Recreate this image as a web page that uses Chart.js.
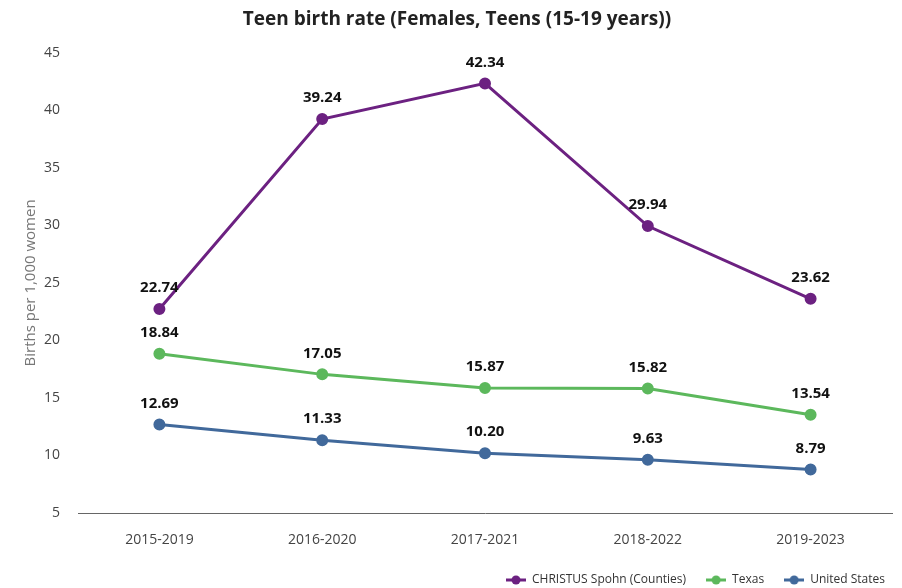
<!DOCTYPE html>
<html>
<head>
<meta charset="utf-8">
<script src="https://cdn.jsdelivr.net/npm/chart.js@4/dist/chart.umd.min.js"></script>
<style>
  html, body { margin: 0; padding: 0; background: #fff; }
  #wrap { width: 902px; height: 588px; }
</style>
</head>
<body>
<div id="wrap"><canvas id="c" width="902" height="588"></canvas></div>
<script>
const periods = ['2015-2019', '2016-2020', '2017-2021', '2018-2022', '2019-2023'];
const christusSpohn = [22.74, 39.24, 42.34, 29.94, 23.62];
const texas = [18.84, 17.05, 15.87, 15.82, 13.54];
const unitedStates = [12.69, 11.33, 10.20, 9.63, 8.79];
const seriesNames = ['CHRISTUS Spohn (Counties)', 'Texas', 'United States'];
const seriesColors = ['#6c2181', '#5cb85c', '#41699b'];

const FONT = '"Open Sans", "Noto Sans", sans-serif';

// Legend marker: short line with a dot in the middle
function legendMarker(color) {
  const cv = document.createElement('canvas');
  cv.width = 20; cv.height = 10;
  const g = cv.getContext('2d');
  g.strokeStyle = color; g.lineWidth = 3;
  g.beginPath(); g.moveTo(0, 5); g.lineTo(20, 5); g.stroke();
  g.fillStyle = color;
  g.beginPath(); g.arc(10, 5, 4.5, 0, Math.PI * 2); g.fill();
  return cv;
}

// Value labels above every point
const valueLabels = {
  id: 'valueLabels',
  afterDatasetsDraw(chart) {
    const ctx = chart.ctx;
    ctx.save();
    ctx.font = 'bold 15px ' + FONT;
    ctx.fillStyle = '#111';
    ctx.textAlign = 'center';
    ctx.textBaseline = 'middle';
    chart.data.datasets.forEach((ds, i) => {
      const meta = chart.getDatasetMeta(i);
      meta.data.forEach((pt, j) => {
        ctx.fillText(ds.data[j].toFixed(2), pt.x, pt.y - 21);
      });
    });
    ctx.restore();
  }
};

// Nudge the legend to the lower right corner
const legendNudge = {
  id: 'legendNudge',
  afterLayout(chart) {
    const lg = chart.legend;
    if (!lg) return;
    lg.left += 13; lg.right += 13;
    lg.top += 8; lg.bottom += 8;
  }
};

const seriesData = [christusSpohn, texas, unitedStates];

new Chart(document.getElementById('c'), {
  type: 'line',
  data: {
    labels: periods,
    datasets: seriesData.map((d, i) => ({
      label: seriesNames[i],
      data: d,
      borderColor: seriesColors[i],
      backgroundColor: seriesColors[i],
      pointBackgroundColor: seriesColors[i],
      pointBorderColor: seriesColors[i],
      borderWidth: 3,
      pointRadius: 4.5,
      tension: 0,
      fill: false
    }))
  },
  options: {
    responsive: false,
    animation: false,
    layout: { padding: { left: 22, right: 10, top: 0, bottom: 0 } },
    plugins: {
      title: {
        display: true,
        text: 'Teen birth rate (Females, Teens (15-19 years))',
        color: '#222',
        font: { family: FONT, size: 19, weight: 'bold' },
        padding: { top: 8, bottom: 22 }
      },
      legend: {
        position: 'bottom',
        align: 'end',
        labels: {
          color: '#333',
          font: { family: FONT, size: 12 },
          usePointStyle: true,
          pointStyleWidth: 20,
          padding: 20,
          generateLabels(chart) {
            return chart.data.datasets.map((ds, i) => ({
              text: ds.label,
              fillStyle: ds.borderColor,
              strokeStyle: ds.borderColor,
              fontColor: '#333',
              pointStyle: legendMarker(ds.borderColor),
              lineWidth: 0,
              hidden: false,
              datasetIndex: i
            }));
          }
        }
      },
      tooltip: { enabled: false }
    },
    scales: {
      x: {
        offset: true,
        grid: { display: false, drawTicks: false },
        border: { display: true, color: '#666', width: 1 },
        ticks: { color: '#444', font: { family: FONT, size: 14 }, padding: 19 },
        afterFit(scale) { scale.height = 33; }
      },
      y: {
        min: 5,
        max: 45,
        ticks: { stepSize: 5, color: '#444', font: { family: FONT, size: 14 }, padding: 18 },
        grid: { display: false, drawTicks: false },
        border: { display: false },
        title: {
          display: true,
          text: 'Births per 1,000 women',
          color: '#777',
          font: { family: FONT, size: 15 },
          padding: { top: 0, bottom: 6 }
        },
        afterFit(scale) { scale.width = 56; }
      }
    }
  },
  plugins: [valueLabels, legendNudge]
});
</script>
</body>
</html>
